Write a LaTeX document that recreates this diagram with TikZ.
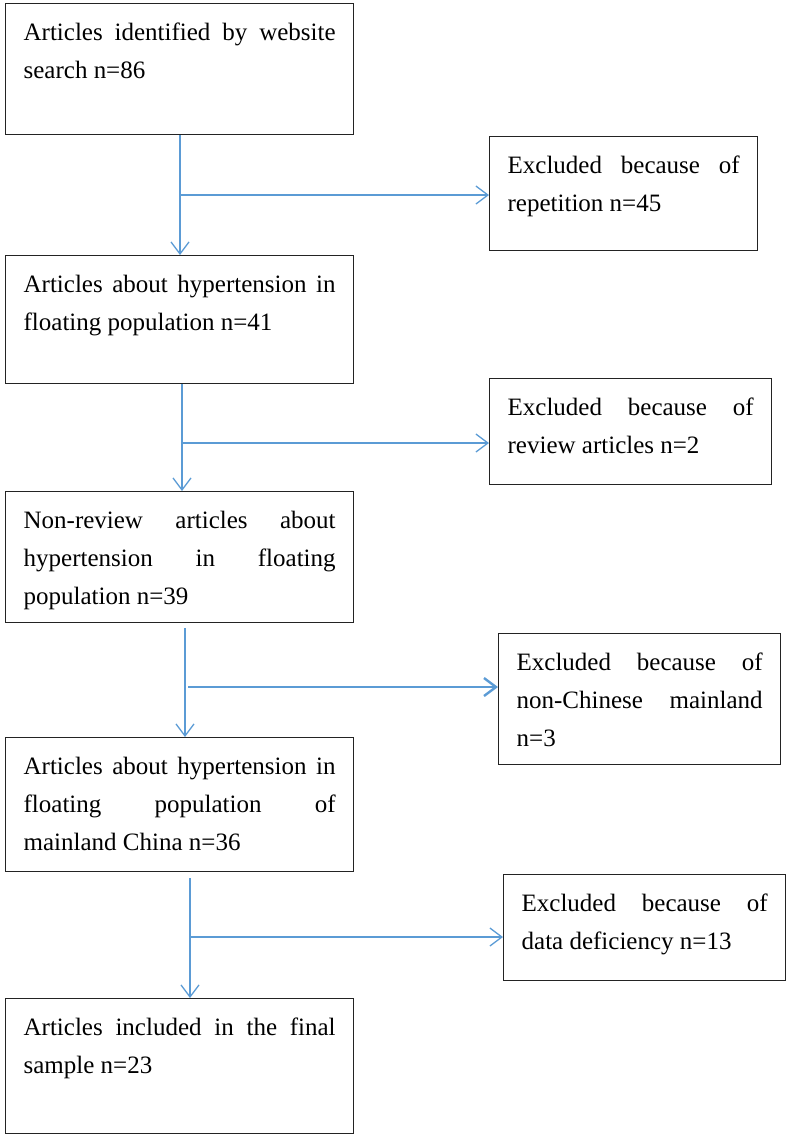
\documentclass[tikz,border=0pt]{standalone}
\usepackage{fontspec}
\setmainfont{Liberation Serif}
\usetikzlibrary{arrows.meta,positioning}
\definecolor{flowblue}{RGB}{91,155,213}
\definecolor{boxline}{RGB}{35,35,35}
\tolerance=10000
\hbadness=10000

\tikzset{
  stepbox/.style={draw=boxline,line width=1.3pt,anchor=north west,align=justify,
    inner xsep=18pt,inner ysep=19pt,text height=18pt,
    font=\fontsize{25}{38}\selectfont},
  inbox/.style={stepbox,text width=312pt,text depth=75pt},
  outbox/.style={stepbox,text width=246pt,text depth=50pt},
  flow/.style={draw=flowblue,line width=1.3pt},
  flowthick/.style={draw=flowblue,line width=2.4pt},
}

\begin{document}
\begin{tikzpicture}[>={Straight Barb[length=12pt,width=18pt]}]
\useasboundingbox (0,0) rectangle (787pt,-1136pt);

% main column
\node[inbox] (identified) at (5pt,-3pt)
  {Articles identified by website\linebreak search n=86};
\node[inbox,text depth=72pt] (hypertension) at (5pt,-255pt)
  {Articles about hypertension in\linebreak floating population n=41};
\node[inbox] (nonreview) at (5pt,-491pt)
  {Non-review articles about\linebreak hypertension in floating\linebreak population n=39};
\node[inbox,text depth=78pt] (mainland) at (5pt,-737pt)
  {Articles about hypertension in\linebreak floating population of\linebreak mainland China n=36};
\node[inbox,text depth=79pt] (included) at (5pt,-998pt)
  {Articles included in the final\linebreak sample n=23};

% excluded column
\node[outbox,text width=232pt,text depth=58pt] (repetition) at (489pt,-136pt)
  {Excluded because of\linebreak repetition n=45};
\node[outbox] (review) at (489pt,-378pt)
  {Excluded because of\linebreak review articles n=2};
\node[outbox,text depth=75pt] (nonchinese) at (498pt,-633pt)
  {Excluded because of\linebreak non-Chinese mainland\linebreak n=3};
\node[outbox] (deficiency) at (503pt,-874pt)
  {Excluded because of\linebreak data deficiency n=13};

% junctions
\coordinate (j1) at (180pt,-195pt);
\coordinate (j2) at (182pt,-443pt);
\coordinate (j3) at (185pt,-687pt);
\coordinate (j4) at (190pt,-937pt);

% step 1
\draw[flowthick] (j1 |- identified.south) -- (j1) -- ++(155pt,0);
\draw[flow,->] (j1) -- (j1 |- hypertension.north);
\draw[flow,->] (j1) -- (j1 -| repetition.west);

% step 2
\draw[flow,->] (j2 |- hypertension.south) -- (j2 |- nonreview.north);
\draw[flow,->] (j2) -- (j2 -| review.west);

% step 3
\draw[flow,->] ([yshift=-5pt]j3 |- nonreview.south) -- (j3 |- mainland.north);
\draw[flow] ([xshift=3pt]j3) -- ++(155pt,0);
\draw[flowthick,->] ([xshift=158pt]j3) -- (j3 -| nonchinese.west);

% step 4
\draw[flowthick] ([yshift=-6pt]j4 |- mainland.south) -- (j4);
\draw[flow,->] (j4) -- (j4 |- included.north);
\draw[flow,->] (j4) -- (j4 -| deficiency.west);
\end{tikzpicture}
\end{document}
